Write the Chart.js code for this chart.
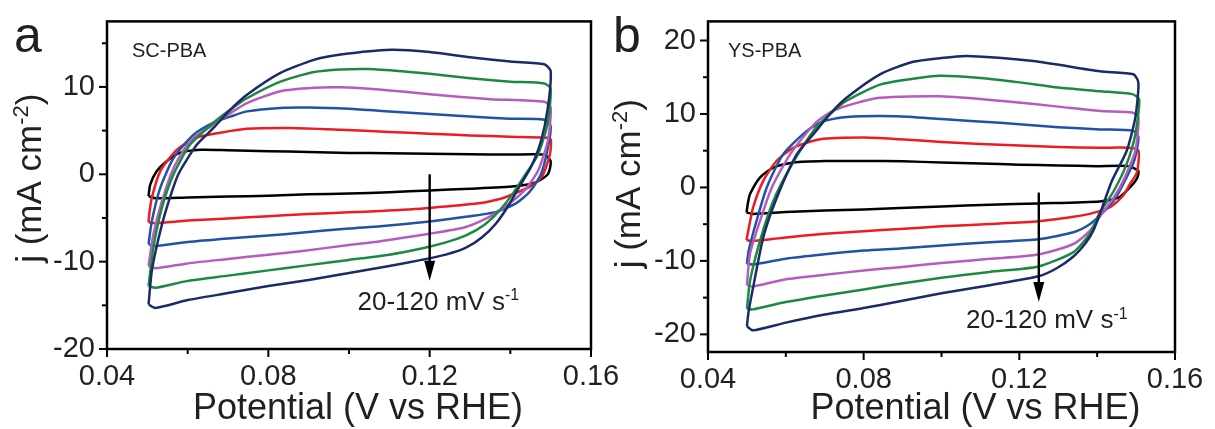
<!DOCTYPE html>
<html>
<head>
<meta charset="utf-8">
<title>CV curves SC-PBA / YS-PBA</title>
<script src="https://cdn.jsdelivr.net/npm/chart.js@4.4.1/dist/chart.umd.min.js"></script>
<style>
html, body { margin: 0; padding: 0; background: #fff; }
#wrap { position: relative; width: 1215px; height: 429px; overflow: hidden; }
canvas { position: absolute; top: 0; }
#cvA { left: 0; }
#cvB { left: 607px; }
</style>
</head>
<body>
<div id="wrap">
  <canvas id="cvA" width="640" height="429"></canvas>
  <canvas id="cvB" width="608" height="429"></canvas>
</div>
<script>
// scan rates, mV/s (slow -> fast)
var scanRates = [20, 40, 60, 80, 100, 120];

var xTickLabels = ['0.04', '0.08', '0.12', '0.16'];
var yTickLabelsA = ['-20', '-10', '0', '10'];
var yTickLabelsB = ['-20', '-10', '0', '10', '20'];

// SC-PBA loops, [potential V, j mA/cm2], anodic sweep then cathodic back
var scPba20 = [[0.0503,-2.5],[0.0507,-1.2],[0.0523,0.34],[0.0548,1.5],[0.0581,2.45],[0.0631,2.8],[0.07,2.75],[0.08,2.65],[0.09,2.55],[0.10,2.45],[0.11,2.4],[0.12,2.35],[0.13,2.3],[0.14,2.25],[0.1484,2.25],[0.1500,1.5],
  [0.1493,0.0],[0.1459,-1.0],[0.141,-1.37],[0.13,-1.65],[0.12,-1.85],[0.11,-2.05],[0.10,-2.2],[0.09,-2.3],[0.08,-2.45],[0.07,-2.55],[0.06,-2.65],[0.052,-2.75],[0.0503,-2.5]];
var scPba40 = [[0.0503,-5.5],[0.0505,-4.5],[0.0511,-2.7],[0.0532,0.34],[0.0573,2.8],[0.0623,4.2],[0.0681,4.75],[0.0747,5.2],[0.0855,5.3],[0.0979,5.1],[0.11,4.85],[0.12,4.65],[0.13,4.45],[0.14,4.3],[0.1484,4.2],[0.1500,4.0],
  [0.1498,2.25],[0.1478,-0.3],[0.1445,-1.5],[0.14,-2.4],[0.1376,-2.8],[0.1327,-3.3],[0.12,-3.85],[0.1078,-4.2],[0.10,-4.35],[0.09,-4.55],[0.08,-4.8],[0.07,-5.05],[0.06,-5.3],[0.052,-5.6],[0.0503,-5.5]];
var scPba60 = [[0.0503,-8.0],[0.0511,-5.4],[0.0532,-1.56],[0.0565,1.86],[0.0614,4.5],[0.0664,5.9],[0.0706,6.6],[0.0747,7.2],[0.083,7.6],[0.09,7.65],[0.10,7.5],[0.11,7.2],[0.12,6.9],[0.13,6.6],[0.14,6.36],[0.1484,6.25],[0.1500,5.5],
  [0.1493,3.0],[0.1476,0.0],[0.1448,-2.0],[0.1415,-3.3],[0.1365,-4.3],[0.1285,-4.9],[0.12,-5.4],[0.1078,-5.94],[0.10,-6.2],[0.088,-6.7],[0.08,-7.0],[0.07,-7.35],[0.06,-7.75],[0.052,-8.2],[0.0503,-8.0]];
var scPba80 = [[0.0503,-10.5],[0.0515,-6.9],[0.0536,-3.1],[0.0565,0.7],[0.0606,3.8],[0.0664,5.7],[0.0706,7.0],[0.0747,8.15],[0.083,9.5],[0.0913,9.9],[0.0979,9.95],[0.105,9.8],[0.115,9.4],[0.125,8.95],[0.135,8.6],[0.1484,8.3],[0.1500,7.6],
  [0.1493,3.8],[0.1468,0.34],[0.1434,-1.9],[0.139,-3.6],[0.1343,-5.0],[0.1285,-6.1],[0.12,-6.8],[0.1078,-7.66],[0.10,-8.1],[0.088,-8.8],[0.08,-9.2],[0.07,-9.7],[0.06,-10.2],[0.052,-10.75],[0.0503,-10.5]];
var scPba100 = [[0.0503,-12.8],[0.0515,-8.4],[0.0536,-3.85],[0.0565,0],[0.0606,3.4],[0.0664,5.9],[0.0706,7.4],[0.0747,8.7],[0.083,10.6],[0.0913,11.7],[0.0979,12.0],[0.105,12.05],[0.113,11.8],[0.12,11.5],[0.13,11.0],[0.14,10.6],[0.1484,10.4],[0.1500,9.8],
  [0.1492,5.7],[0.1468,2.2],[0.1435,-0.2],[0.1405,-2.3],[0.137,-4.3],[0.1335,-5.8],[0.129,-7.0],[0.124,-7.8],[0.118,-8.5],[0.11,-9.2],[0.10,-9.8],[0.09,-10.4],[0.08,-11.0],[0.07,-11.6],[0.06,-12.2],[0.052,-13.0],[0.0503,-12.8]];
var scPba120 = [[0.0503,-14.9],[0.0511,-11.1],[0.0528,-7.3],[0.0548,-3.85],[0.0577,0],[0.0623,3.4],[0.0664,5.3],[0.0706,7.4],[0.0747,9.1],[0.083,11.6],[0.0913,13.1],[0.0979,13.7],[0.1103,14.25],[0.12,14.0],[0.13,13.4],[0.14,12.9],[0.1484,12.6],[0.1500,11.8],
  [0.1493,7.6],[0.1476,3.8],[0.1451,0.8],[0.1425,-1.2],[0.1395,-3.6],[0.1365,-5.6],[0.133,-7.2],[0.129,-8.4],[0.124,-9.2],[0.118,-9.8],[0.11,-10.5],[0.10,-11.3],[0.09,-12.1],[0.08,-12.8],[0.07,-13.6],[0.06,-14.4],[0.052,-15.3],[0.0503,-14.9]];

// YS-PBA loops
var ysPba20 = [[0.0499,-3.4],[0.0503,-2.0],[0.0508,-0.9],[0.0534,1.36],[0.0568,2.7],[0.062,3.4],[0.07,3.6],[0.08,3.6],[0.09,3.55],[0.10,3.4],[0.11,3.25],[0.12,3.1],[0.13,3.0],[0.14,2.9],[0.148,2.9],[0.1506,2.25],
  [0.1502,1.2],[0.1484,0.0],[0.1455,-1.4],[0.1407,-1.9],[0.1249,-2.17],[0.1124,-2.35],[0.10,-2.6],[0.0893,-2.8],[0.08,-3.0],[0.07,-3.15],[0.06,-3.35],[0.0515,-3.6],[0.0499,-3.4]];
var ysPba40 = [[0.0499,-7.2],[0.0503,-6.0],[0.0516,-2.7],[0.0542,0.9],[0.0576,3.6],[0.0619,5.4],[0.0688,6.56],[0.0799,6.8],[0.0893,6.56],[0.10,6.2],[0.11,5.9],[0.12,5.7],[0.13,5.5],[0.1407,5.4],[0.148,5.4],[0.1506,5.0],
  [0.1502,2.0],[0.1484,0.45],[0.1467,-1.1],[0.1433,-2.7],[0.1381,-3.6],[0.1339,-3.98],[0.1249,-4.6],[0.1124,-4.97],[0.10,-5.3],[0.0893,-5.65],[0.08,-5.95],[0.07,-6.3],[0.06,-6.8],[0.0515,-7.3],[0.0499,-7.2]];
var ysPba60 = [[0.0500,-10.4],[0.0505,-8.5],[0.0525,-4.5],[0.0551,0],[0.0593,4.5],[0.0654,7.7],[0.0696,9.0],[0.0756,9.6],[0.0885,9.7],[0.10,9.3],[0.115,8.8],[0.13,8.2],[0.1407,7.9],[0.1493,7.7],[0.1506,6.8],
  [0.1495,3.6],[0.1471,0.9],[0.1445,-1.6],[0.1415,-3.4],[0.1381,-5.0],[0.1339,-6.1],[0.1249,-7.05],[0.1124,-7.46],[0.10,-7.9],[0.0893,-8.3],[0.08,-8.6],[0.07,-9.1],[0.06,-9.7],[0.0515,-10.5],[0.0500,-10.4]];
var ysPba80 = [[0.0500,-13.3],[0.0508,-9.0],[0.0534,-4.5],[0.0564,0],[0.0611,4.5],[0.0671,8.5],[0.0713,10.2],[0.0756,11.1],[0.0842,12.2],[0.0996,12.4],[0.115,11.8],[0.13,11.0],[0.1407,10.4],[0.149,10.2],[0.1506,9.5],
  [0.1498,5.0],[0.1467,0.9],[0.1445,-1.2],[0.1412,-3.6],[0.1381,-5.9],[0.1339,-7.7],[0.1249,-9.13],[0.1124,-9.72],[0.10,-10.3],[0.0893,-10.85],[0.08,-11.3],[0.07,-11.9],[0.06,-12.5],[0.0515,-13.5],[0.0500,-13.3]];
var ysPba100 = [[0.0500,-16.5],[0.0508,-12.7],[0.0534,-7.2],[0.0568,-1.8],[0.0611,2.7],[0.0671,7.7],[0.0713,9.96],[0.0756,11.8],[0.0842,14.0],[0.0927,14.8],[0.0996,15.2],[0.11,14.9],[0.12,14.3],[0.13,13.6],[0.1407,13.1],[0.149,12.7],[0.1508,12.0],
  [0.1498,7.2],[0.1476,3.2],[0.1443,-0.45],[0.1405,-3.6],[0.1381,-6.3],[0.1339,-8.8],[0.1249,-10.76],[0.1124,-11.5],[0.10,-12.3],[0.0893,-13.1],[0.08,-13.9],[0.07,-14.7],[0.06,-15.6],[0.0515,-16.6],[0.0500,-16.5]];
var ysPba120 = [[0.0500,-18.9],[0.0504,-17.0],[0.0516,-13.6],[0.0542,-6.8],[0.0577,-1.36],[0.0628,4.5],[0.0671,7.24],[0.0713,9.96],[0.0756,12.2],[0.0842,15.4],[0.0927,17.1],[0.0996,17.6],[0.1065,17.9],[0.1236,17.2],[0.1407,15.8],[0.1493,15.4],[0.1506,14.25],
  [0.1498,9.5],[0.1476,5.0],[0.1438,0.9],[0.1411,-3.0],[0.139,-5.9],[0.137,-7.6],[0.1339,-9.4],[0.1296,-11.0],[0.1249,-12.1],[0.1124,-13.3],[0.10,-14.4],[0.0893,-15.5],[0.08,-16.4],[0.07,-17.3],[0.06,-18.4],[0.0515,-19.45],[0.0500,-18.9]];

var loopColors = ['#000000', '#ec1c24', '#2052a6', '#b65cc0', '#1b8a3f', '#1c2a6a'];
var fontFamily = '"Liberation Sans", Arial, Helvetica, sans-serif';
var ink = '#231f20';

function labelFor(v, list) {
  for (var i = 0; i < list.length; i++) {
    if (Math.abs(Number(list[i]) - v) < 1e-9) return list[i];
  }
  return '';
}

// tick values every `step` between lo and hi
function tickRange(lo, hi, step) {
  var out = [];
  for (var k = Math.ceil(lo / step - 1e-9); k * step <= hi + 1e-9; k++) {
    out.push({ value: Math.round(k * step * 1e6) / 1e6 });
  }
  return out;
}

// text with raised parts, parts = [[text, isSup], ...]
function drawRich(ctx, parts, x, y, size, centered) {
  var supSize = Math.round(size * 0.62);
  var widths = parts.map(function (part) {
    ctx.font = (part[1] ? supSize : size) + 'px ' + fontFamily;
    return ctx.measureText(part[0]).width;
  });
  var total = widths.reduce(function (a, b) { return a + b; }, 0);
  var cx = centered ? x - total / 2 : x;
  ctx.textAlign = 'left';
  ctx.textBaseline = 'alphabetic';
  parts.forEach(function (part, i) {
    ctx.font = (part[1] ? supSize : size) + 'px ' + fontFamily;
    ctx.fillText(part[0], cx, part[1] ? y - size * 0.36 : y);
    cx += widths[i];
  });
}

// frame, outward ticks, titles, arrow and notes
var decorPlugin = {
  id: 'decor',
  afterDraw: function (chart) {
    var p = chart.options.plugins.decor;
    var ctx = chart.ctx, area = chart.chartArea;
    var xs = chart.scales.x, ys = chart.scales.y;
    ctx.save();
    ctx.strokeStyle = '#000';
    ctx.fillStyle = '#000';
    ctx.lineWidth = 2.5;
    ctx.strokeRect(area.left, area.top, area.right - area.left, area.bottom - area.top);

    ctx.lineWidth = 2;
    xs.ticks.forEach(function (t) {
      var len = labelFor(t.value, xTickLabels) ? 8 : 5;
      var px = xs.getPixelForValue(t.value);
      ctx.beginPath(); ctx.moveTo(px, area.bottom); ctx.lineTo(px, area.bottom + len); ctx.stroke();
    });
    ys.ticks.forEach(function (t) {
      var len = labelFor(t.value, p.yLabels) ? 8 : 5;
      var py = ys.getPixelForValue(t.value);
      ctx.beginPath(); ctx.moveTo(area.left, py); ctx.lineTo(area.left - len, py); ctx.stroke();
    });

    // scan-rate arrow
    var ax = xs.getPixelForValue(p.arrow.x);
    var ay0 = ys.getPixelForValue(p.arrow.from);
    var ay1 = ys.getPixelForValue(p.arrow.to);
    ctx.lineWidth = 2.4;
    ctx.beginPath(); ctx.moveTo(ax, ay0); ctx.lineTo(ax, ay1 - 14); ctx.stroke();
    ctx.beginPath();
    ctx.moveTo(ax - 5.5, ay1 - 20); ctx.lineTo(ax + 5.5, ay1 - 20); ctx.lineTo(ax, ay1);
    ctx.closePath(); ctx.fill();

    ctx.fillStyle = ink;
    drawRich(ctx, [['20-120 mV s', false], ['-1', true]],
      xs.getPixelForValue(p.note.x), ys.getPixelForValue(p.note.y), 26, false);

    ctx.font = '20px ' + fontFamily;
    ctx.textAlign = 'left';
    ctx.fillText(p.sample, p.sampleX, 57);

    ctx.font = '50px ' + fontFamily;
    ctx.fillText(p.letter, p.letterX, 52);

    // axis titles
    drawRich(ctx, [['Potential (V vs RHE)', false]],
      (area.left + area.right) / 2 + p.xTitleShift, 419, 36, true);
    ctx.save();
    ctx.translate(p.yTitleX, (area.top + area.bottom) / 2 + p.yTitleShift);
    ctx.rotate(-Math.PI / 2);
    drawRich(ctx, [['j (mA cm', false], ['-2', true], [')', false]], 0, 0, 35, true);
    ctx.restore();
    ctx.restore();
  }
};

function makePanel(id, p) {
  var datasets = p.loops.map(function (loop, i) {
    return {
      label: scanRates[i] + ' mV/s',
      data: loop.map(function (pt) { return { x: pt[0], y: pt[1] }; }),
      showLine: true,
      borderColor: loopColors[i],
      borderWidth: 2.5,
      borderJoinStyle: 'round',
      pointRadius: 0,
      tension: 0.22,
      fill: false,
      order: scanRates.length - i
    };
  });

  return new Chart(document.getElementById(id), {
    type: 'scatter',
    data: { datasets: datasets },
    options: {
      responsive: false,
      animation: false,
      devicePixelRatio: 1,
      layout: { padding: p.padding },
      plugins: {
        legend: { display: false },
        tooltip: { enabled: false },
        decor: p
      },
      scales: {
        x: {
          type: 'linear',
          min: 0.04,
          max: 0.16,
          afterBuildTicks: function (s) { s.ticks = tickRange(0.04, 0.16, 0.02); },
          afterFit: function (s) { s.height = p.xAxisHeight; },
          border: { display: false },
          grid: { drawOnChartArea: false, tickLength: 8, tickColor: 'rgba(0,0,0,0)' },
          ticks: {
            autoSkip: false, maxRotation: 0, padding: 3,
            color: ink, font: { family: fontFamily, size: 29 },
            callback: function (v) { return labelFor(v, xTickLabels); }
          }
        },
        y: {
          type: 'linear',
          min: p.yMin,
          max: p.yMax,
          afterBuildTicks: function (s) { s.ticks = tickRange(p.yMin, p.yMax, 5); },
          afterFit: function (s) { s.width = p.yAxisWidth; },
          border: { display: false },
          grid: { drawOnChartArea: false, tickLength: 8, tickColor: 'rgba(0,0,0,0)' },
          ticks: {
            autoSkip: false, padding: 4,
            color: ink, font: { family: fontFamily, size: 29 },
            callback: function (v) { return labelFor(v, p.yLabels); }
          }
        }
      }
    },
    plugins: [decorPlugin]
  });
}

makePanel('cvA', {
  loops: [scPba20, scPba40, scPba60, scPba80, scPba100, scPba120],
  yMin: -20, yMax: 17.5, yLabels: yTickLabelsA,
  padding: { left: 0, top: 20, right: 49, bottom: 0 },
  yAxisWidth: 107, xAxisHeight: 80,
  letter: 'a', letterX: 14,
  sample: 'SC-PBA', sampleX: 132,
  arrow: { x: 0.12, from: 0, to: -12.2 },
  note: { x: 0.1021, y: -15.5 },
  xTitleShift: 9, yTitleX: 41, yTitleShift: -7
});

makePanel('cvB', {
  loops: [ysPba20, ysPba40, ysPba60, ysPba80, ysPba100, ysPba120],
  yMin: -22.4, yMax: 22.6, yLabels: yTickLabelsB,
  padding: { left: 0, top: 20, right: 40, bottom: 0 },
  yAxisWidth: 101, xAxisHeight: 77,
  letter: 'b', letterX: 6,
  sample: 'YS-PBA', sampleX: 121,
  arrow: { x: 0.125, from: -0.7, to: -15.6 },
  note: { x: 0.1063, y: -19.2 },
  xTitleShift: 34, yTitleX: 33, yTitleShift: -3
});
</script>
</body>
</html>
